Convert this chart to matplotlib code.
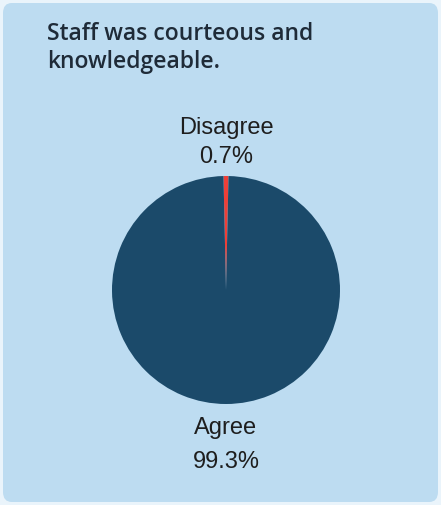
import matplotlib
matplotlib.use("Agg")
import matplotlib.pyplot as plt
from matplotlib.patches import FancyBboxPatch

title = "Staff was courteous and\nknowledgeable."
categories = ["Disagree", "Agree"]
values = [0.7, 99.3]
colors = ["#ee3f38", "#1b4a6a"]

W, H = 441, 505
fig = plt.figure(figsize=(W / 100, H / 100), dpi=100)
fig.patch.set_facecolor("#eaf4fb")

card = FancyBboxPatch((3 / W, 3 / H), (W - 6) / W, (H - 6) / H,
                      boxstyle="round,pad=0,rounding_size=0.02",
                      transform=fig.transFigure, facecolor="#bddcf1",
                      edgecolor="none", zorder=-5)
fig.patches.append(card)

fig.text(47 / W, 1 - 22 / H, title, ha="left", va="top", fontsize=16.5,
         family="Open Sans", fontweight="semibold", color="#1f2b38",
         linespacing=1.2)

cx, cy, r = 226, 290, 114
ax = fig.add_axes([(cx - r) / W, 1 - (cy + r) / H, 2 * r / W, 2 * r / H])
ax.set_zorder(2)
ax.set_facecolor("none")
start = 90 + values[0] * 3.6 / 2
ax.pie(values, colors=colors, startangle=start, counterclock=False,
       radius=1, wedgeprops=dict(linewidth=0))
ax.set_xlim(-1, 1)
ax.set_ylim(-1, 1)
ax.set_aspect("equal")
ax.axis("off")

lab_kw = dict(ha="center", va="center", fontsize=17, family="Liberation Sans",
              color="#1e1e1e")
fig.text(cx / W, 1 - 128 / H, categories[0], **lab_kw)
fig.text(cx / W, 1 - 157 / H, f"{values[0]}%", **lab_kw)
fig.text(cx / W, 1 - 428 / H, categories[1], **lab_kw)
fig.text(cx / W, 1 - 462 / H, f"{values[1]}%", **lab_kw)

fig.savefig("out.png", dpi=100, facecolor=fig.get_facecolor())
